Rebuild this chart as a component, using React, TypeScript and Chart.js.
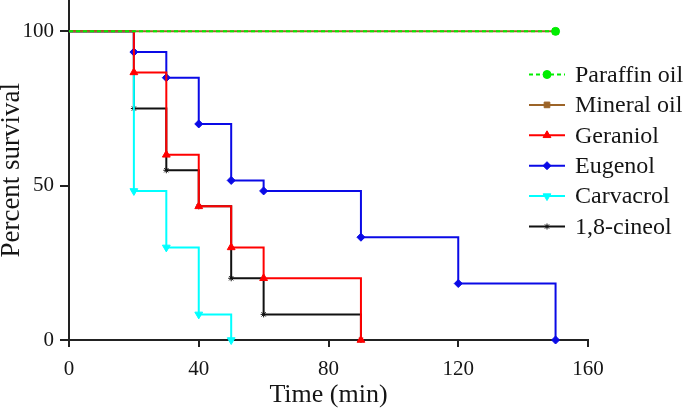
import React, { useEffect, useRef } from 'react';
import { Chart, registerables } from 'chart.js';
import { drawPoint } from 'chart.js/helpers';

Chart.register(...registerables);

// ---- data ----
const seriesNames = ['Paraffin oil', 'Mineral oil', 'Geraniol', 'Eugenol', 'Carvacrol', '1,8-cineol'];

const paraffinTimes = [0, 150];
const paraffinSurvival = [100, 100];

const mineralTimes = [0, 150];
const mineralSurvival = [100, 100];

const geraniolTimes = [0, 20, 30, 40, 50, 60, 90];
const geraniolSurvival = [100, 86.7, 60, 43.3, 30, 20, 0];

const eugenolTimes = [0, 20, 30, 40, 50, 60, 90, 120, 150];
const eugenolSurvival = [100, 93.3, 85, 70, 51.7, 48.3, 33.3, 18.3, 0];

const carvacrolTimes = [0, 20, 30, 40, 50];
const carvacrolSurvival = [100, 48.3, 30, 8.3, 0];

const cineolTimes = [0, 20, 30, 40, 50, 60, 90];
const cineolSurvival = [100, 75, 55, 43.3, 20, 8.3, 0];

const xTickValues = [0, 40, 80, 120, 160];
const yTickValues = [0, 50, 100];

const xTitle = 'Time (min)';
const yTitle = 'Percent survival';

// ---- styles ----
const colors = ['#00ee00', '#9c6428', '#ff0000', '#0a0ae6', '#00ffff', '#111111'];
const pointStyles = ['circle', 'rect', 'triangle', 'rectRot', 'triangle', 'star'];
const pointRotations = [0, 0, 0, 0, 180, 0];
const pointRadii = [4, 4, 4.5, 4, 4.5, 3];
const dashes = [[4, 3], [], [], [], [], []];

const FONT = '"Liberation Serif", "Times New Roman", serif';
const SHIFT = 5; // canvas is shifted up so the plot area starts at the page top

function toPoints(xs: number[], ys: number[]) {
  return xs.map((x, i) => ({ x, y: ys[i] }));
}

const allSeries = [
  toPoints(paraffinTimes, paraffinSurvival),
  toPoints(mineralTimes, mineralSurvival),
  toPoints(geraniolTimes, geraniolSurvival),
  toPoints(eugenolTimes, eugenolSurvival),
  toPoints(carvacrolTimes, carvacrolSurvival),
  toPoints(cineolTimes, cineolSurvival),
];

const legendPlugin = {
  id: 'stepLegend',
  afterDraw(chart: any) {
    const ctx = chart.ctx as CanvasRenderingContext2D;
    seriesNames.forEach((name, i) => {
      const y = SHIFT + 74.5 + i * 30.4;
      ctx.save();
      ctx.strokeStyle = colors[i];
      ctx.lineWidth = 2;
      ctx.setLineDash(dashes[i]);
      ctx.beginPath();
      ctx.moveTo(529, y);
      ctx.lineTo(565, y);
      ctx.stroke();
      ctx.setLineDash([]);
      ctx.fillStyle = colors[i];
      ctx.strokeStyle = colors[i];
      ctx.lineWidth = 1;
      drawPoint(ctx, { pointStyle: pointStyles[i] as any, rotation: pointRotations[i], radius: pointRadii[i], borderWidth: 1 } as any, 547, y);
      ctx.fillStyle = '#151515';
      ctx.font = '24px ' + FONT;
      ctx.textBaseline = 'middle';
      ctx.textAlign = 'left';
      ctx.fillText(name, 575, y + 1);
      ctx.restore();
    });
  },
};

export default function App() {
  const ref = useRef<HTMLCanvasElement | null>(null);

  useEffect(() => {
    if (!ref.current) return;
    const datasets = allSeries.map((data, i) => ({
      label: seriesNames[i],
      data,
      stepped: 'before' as const,
      borderColor: colors[i],
      backgroundColor: colors[i],
      borderWidth: 2,
      borderDash: dashes[i],
      pointStyle: pointStyles[i] as any,
      pointRotation: pointRotations[i],
      pointBackgroundColor: colors[i],
      pointBorderColor: colors[i],
      pointBorderWidth: 1,
      pointRadius: (c: any) => (c.dataIndex === 0 ? 0 : pointRadii[i]),
      fill: false,
      clip: false as any,
    }));

    const chart = new Chart(ref.current, {
      type: 'line',
      data: { datasets },
      plugins: [legendPlugin],
      options: {
        animation: false,
        responsive: false,
        events: [],
        layout: { padding: { top: 0, right: 97, bottom: 0, left: 0 } },
        plugins: { legend: { display: false }, tooltip: { enabled: false } },
        scales: {
          x: {
            type: 'linear',
            min: 0,
            max: 160,
            afterFit: (s: any) => { s.height = 71; s.paddingLeft = 0; s.paddingRight = 0; },
            afterBuildTicks: (s: any) => { s.ticks = xTickValues.map((v) => ({ value: v })); },
            grid: { display: true, drawOnChartArea: false, drawTicks: true, tickLength: 7, color: '#222', lineWidth: 2 },
            border: { display: true, color: '#222', width: 2 },
            ticks: { color: '#151515', font: { family: FONT, size: 21 }, padding: 10, maxRotation: 0 },
            title: { display: true, text: xTitle, color: '#151515', font: { family: FONT, size: 26 }, padding: { top: 0, bottom: 0 } },
          },
          y: {
            type: 'linear',
            min: 0,
            max: 110,
            afterFit: (s: any) => { s.width = 69; s.paddingTop = 0; s.paddingBottom = 0; },
            afterBuildTicks: (s: any) => { s.ticks = yTickValues.map((v) => ({ value: v })); },
            grid: { display: true, drawOnChartArea: false, drawTicks: true, tickLength: 9, color: '#222', lineWidth: 2 },
            border: { display: true, color: '#222', width: 2 },
            ticks: { color: '#151515', font: { family: FONT, size: 21 }, padding: 6 },
            title: { display: true, text: yTitle, color: '#151515', font: { family: FONT, size: 27, lineHeight: 0.85 }, padding: { top: 0, bottom: 0 } },
          },
        },
      },
    });
    return () => chart.destroy();
  }, []);

  return (
    <div style={{ position: 'fixed', left: 0, top: 0, width: 685, height: 411, background: '#fff', overflow: 'hidden' }}>
      <canvas ref={ref} width={685} height={411 + SHIFT} style={{ display: 'block', position: 'absolute', left: 0, top: -SHIFT }} />
    </div>
  );
}
